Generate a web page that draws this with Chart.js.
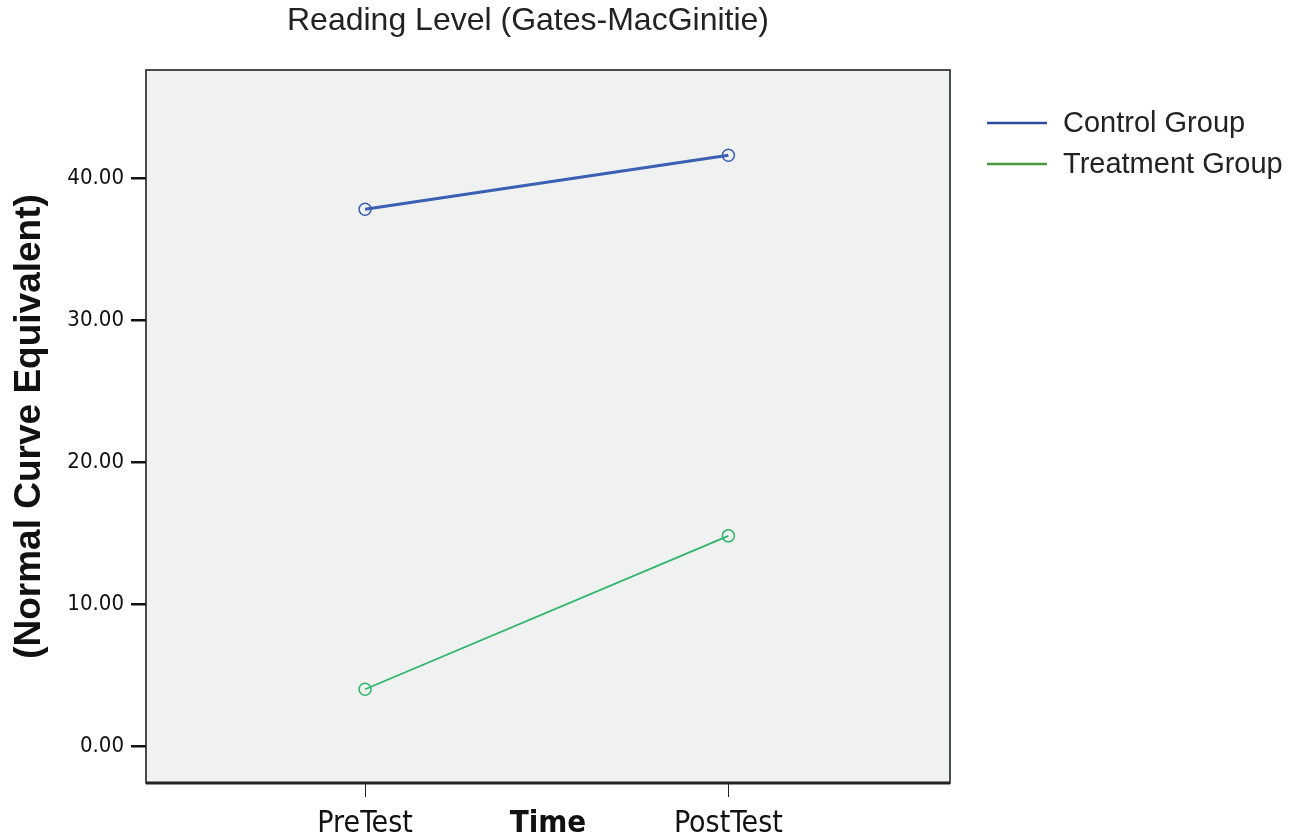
<!DOCTYPE html>
<html>
<head>
<meta charset="utf-8">
<script src="https://cdn.jsdelivr.net/npm/chart.js@4.4.0/dist/chart.umd.min.js"></script>
<style>
  html, body { margin: 0; padding: 0; background: #fff; }
  #wrap { width: 1295px; height: 839px; position: relative; }
</style>
</head>
<body>
<div id="wrap"><canvas id="chart"></canvas></div>
<script>
// data
const timeLabels = ['PreTest', 'PostTest'];
const controlScores = [37.8, 41.6];
const treatmentScores = [4.0, 14.8];
const yTickValues = [0, 10, 20, 30, 40];

const NARROW = '"Liberation Sans Narrow", "Arial Narrow", "DejaVu Sans Condensed", sans-serif';
const SANS = '"Liberation Sans", Arial, sans-serif';

const seriesStyle = [
  { label: 'Control Group', values: controlScores, line: '#3a5fb3', legend: '#2d4c9c', width: 3 },
  { label: 'Treatment Group', values: treatmentScores, line: '#2fb56b', legend: '#4d9a3c', width: 1.8 }
];

// frame, background, title and legend
const framePlugin = {
  id: 'frame',
  beforeDatasetsDraw(chart) {
    const { ctx, chartArea: a } = chart;
    ctx.save();
    ctx.fillStyle = '#f0f1f1';
    ctx.fillRect(a.left, a.top, a.right - a.left, a.bottom - a.top);
    ctx.restore();
  },
  afterDraw(chart) {
    const { ctx, chartArea: a } = chart;
    ctx.save();
    ctx.strokeStyle = '#222';
    ctx.lineWidth = 1.6;
    ctx.strokeRect(a.left, a.top, a.right - a.left, a.bottom - a.top);
    ctx.lineWidth = 3;
    ctx.beginPath();
    ctx.moveTo(a.left, a.bottom);
    ctx.lineTo(a.right, a.bottom);
    ctx.stroke();

    ctx.fillStyle = '#222';
    ctx.font = '32px ' + SANS;
    ctx.textAlign = 'center';
    ctx.textBaseline = 'middle';
    ctx.fillText('Reading Level (Gates-MacGinitie)', 528, 21);

    ctx.font = '29px ' + SANS;
    ctx.textAlign = 'left';
    seriesStyle.forEach((s, i) => {
      const y = 123 + i * 41;
      ctx.strokeStyle = s.legend;
      ctx.lineWidth = 2.5;
      ctx.beginPath();
      ctx.moveTo(987, y);
      ctx.lineTo(1047, y);
      ctx.stroke();
      ctx.fillStyle = '#222';
      ctx.fillText(s.label, 1063, y + 1);
    });
    ctx.restore();
  }
};

new Chart(document.getElementById('chart'), {
  type: 'line',
  data: {
    datasets: seriesStyle.map(s => ({
      label: s.label,
      data: s.values.map((v, i) => ({ x: i, y: v })),
      borderColor: s.line,
      borderWidth: s.width,
      pointRadius: 6,
      pointBorderWidth: 1.5,
      pointBorderColor: s.line,
      pointBackgroundColor: 'rgba(0,0,0,0)',
      tension: 0
    }))
  },
  options: {
    responsive: true,
    maintainAspectRatio: false,
    animation: false,
    layout: { padding: { left: 0, top: 70, right: 345, bottom: 0 } },
    plugins: {
      legend: { display: false },
      title: { display: false },
      tooltip: { enabled: false }
    },
    scales: {
      x: {
        type: 'linear',
        min: -0.603,
        max: 1.61,
        afterBuildTicks: s => { s.ticks = timeLabels.map((_, i) => ({ value: i })); },
        afterFit: s => { s.height = 56; },
        ticks: {
          callback: v => timeLabels[v],
          color: '#111',
          font: { family: NARROW, size: 30 },
          padding: 9,
          maxRotation: 0
        },
        grid: { drawOnChartArea: false, drawTicks: true, tickLength: 14, color: '#222', lineWidth: 1 },
        border: { display: false },
        title: {
          display: true,
          text: 'Time',
          color: '#111',
          font: { family: NARROW, size: 31, weight: 'bold', lineHeight: 1.0 },
          padding: { top: 0, bottom: 0 }
        }
      },
      y: {
        min: -2.6,
        max: 47.6,
        afterBuildTicks: s => { s.ticks = yTickValues.map(v => ({ value: v })); },
        afterFit: s => { s.width = 146; },
        ticks: {
          callback: v => v.toFixed(2),
          color: '#111',
          font: { family: NARROW, size: 22 },
          padding: 7
        },
        grid: { drawOnChartArea: false, drawTicks: true, tickLength: 15, color: '#111', lineWidth: 2.5 },
        border: { display: false },
        title: {
          display: true,
          text: '(Normal Curve Equivalent)',
          color: '#111',
          font: { family: SANS, size: 37, weight: 'bold', lineHeight: 1.2 },
          padding: { top: 8, bottom: 0 }
        }
      }
    }
  },
  plugins: [framePlugin]
});
</script>
</body>
</html>
